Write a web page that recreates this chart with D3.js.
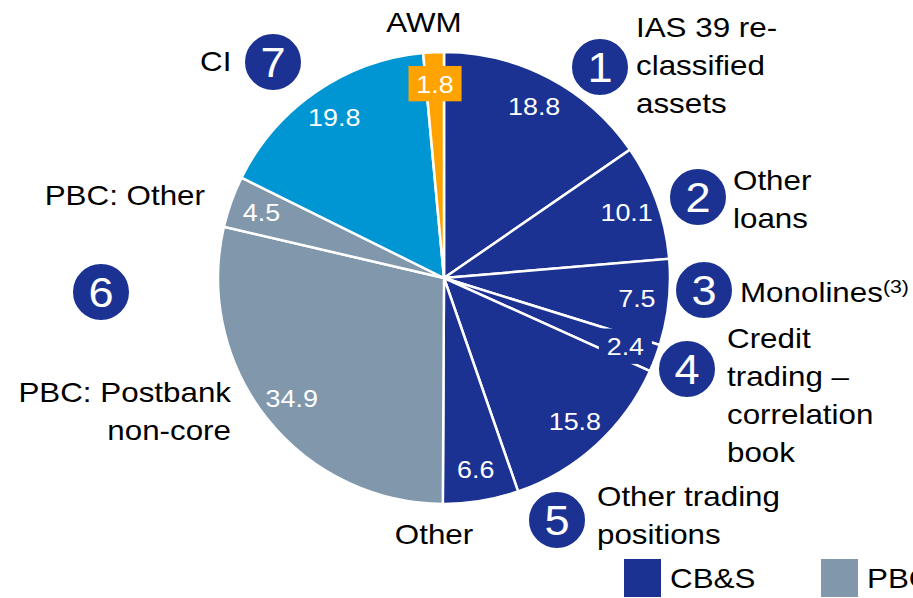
<!DOCTYPE html>
<html>
<head>
<meta charset="utf-8">
<script src="https://cdn.jsdelivr.net/npm/d3@7"></script>
<style>
  html, body { margin: 0; padding: 0; background: #fff; }
  svg { display: block; font-family: "Liberation Sans", Arial, sans-serif; }
</style>
</head>
<body>
<svg width="913" height="598"></svg>
<script>
// slices, clockwise from 12 o'clock
const segments = ['IAS 39 reclassified assets', 'Other loans', 'Monolines',
  'Credit trading - correlation book', 'Other trading positions', 'Other',
  'PBC: Postbank non-core', 'PBC: Other', 'CI', 'AWM'];
const values = [18.8, 10.1, 7.5, 2.4, 15.8, 6.6, 34.9, 4.5, 19.8, 1.8];
const divisions = ['CB&S', 'CB&S', 'CB&S', 'CB&S', 'CB&S', 'CB&S', 'PBC', 'PBC', 'CI', 'AWM'];

const divisionNames = ['CB&S', 'PBC', 'CI', 'AWM'];
const divisionColors = ['#1b3293', '#8197ab', '#0095d3', '#ffa300'];
const legendItems = ['CB&S', 'PBC'];

// numbered callouts
const badgeNums = ['1', '2', '3', '4', '5', '6', '7'];
const badgeXY = [[600, 67], [698, 197], [704, 290], [687, 369], [557, 520], [101, 292], [273, 62]];

const svg = d3.select('svg');
const width = +svg.attr('width');
const height = +svg.attr('height');

const cx = 444, cy = 278, radius = 226, labelR = 194;
const stretch = 1.12; // text in the original is a bit wide

const color = d3.scaleOrdinal().domain(divisionNames).range(divisionColors);

const pie = d3.pie().sort(null).value(d => d.value);
const arcs = pie(values.map((v, i) => ({ name: segments[i], value: v, div: divisions[i] })));
const arc = d3.arc().innerRadius(0).outerRadius(radius);
const labelArc = d3.arc().innerRadius(labelR).outerRadius(labelR);

const g = svg.append('g').attr('transform', `translate(${cx},${cy})`);

g.selectAll('path')
  .data(arcs)
  .enter()
  .append('path')
  .attr('d', arc)
  .attr('fill', d => color(d.data.div))
  .attr('stroke', '#fff')
  .attr('stroke-width', 2.5);

// value labels
const labels = g.selectAll('g.lab')
  .data(arcs)
  .enter()
  .append('g')
  .attr('class', 'lab')
  .attr('transform', d => `translate(${labelArc.centroid(d)}) scale(${stretch},1)`);

labels.append('text')
  .attr('text-anchor', 'middle')
  .attr('dy', '0.35em')
  .attr('fill', '#fff')
  .style('font-size', '24px')
  .text(d => d.data.value.toFixed(1));

// small slices get a box behind the label
labels.filter(d => d.data.value < 3).each(function(d) {
  const t = d3.select(this).select('text');
  const bb = t.node().getBBox();
  d3.select(this).insert('rect', 'text')
    .attr('x', bb.x - 7)
    .attr('y', bb.y - 5)
    .attr('width', bb.width + 14)
    .attr('height', bb.height + 9)
    .attr('fill', color(d.data.div));
});

// callout badges
const badges = svg.selectAll('g.badge')
  .data(badgeNums)
  .enter()
  .append('g')
  .attr('class', 'badge')
  .attr('transform', (d, i) => `translate(${badgeXY[i]})`);

badges.append('circle')
  .attr('r', 29)
  .attr('fill', '#1b3293')
  .attr('stroke', '#fff')
  .attr('stroke-width', 2);

badges.append('text')
  .attr('text-anchor', 'middle')
  .attr('y', 15)
  .attr('fill', '#fff')
  .attr('transform', 'scale(1.05,1)')
  .style('font-size', '43px')
  .text(d => d);

// category text
const lineH = 38;
function multiText(lines, x, y, anchor) {
  const t = svg.append('text')
    .attr('transform', `translate(${x},${y}) scale(${stretch},1)`)
    .attr('text-anchor', anchor || 'start')
    .attr('fill', '#000')
    .style('font-size', '28px');
  lines.forEach((l, i) => {
    t.append('tspan').attr('x', 0).attr('dy', i === 0 ? 0 : lineH).text(l);
  });
  return t;
}

multiText(['AWM'], 424, 32, 'middle');
multiText(['CI'], 200, 71);
multiText(['IAS 39 re-', 'classified', 'assets'], 636, 37);
multiText(['Other', 'loans'], 733, 190);
const mono = multiText(['Monolines'], 740, 302);
mono.append('tspan').attr('dy', -9).style('font-size', '19px').text('(3)');
multiText(['Credit', 'trading \u2013', 'correlation', 'book'], 727, 348);
multiText(['Other trading', 'positions'], 597, 506);
multiText(['Other'], 434, 544, 'middle');
multiText(['PBC: Other'], 205, 205, 'end');
multiText(['PBC: Postbank', 'non-core'], 231, 402, 'end');

// legend (second entry runs off the right edge, as in the original)
const legend = svg.selectAll('g.legend')
  .data(legendItems)
  .enter()
  .append('g')
  .attr('class', 'legend')
  .attr('transform', (d, i) => `translate(${624 + i * 197},559)`);

legend.append('rect')
  .attr('width', 37)
  .attr('height', 38)
  .attr('fill', d => color(d));

legend.append('text')
  .attr('transform', `translate(46,29) scale(${stretch},1)`)
  .style('font-size', '28px')
  .text(d => d);
</script>
</body>
</html>
